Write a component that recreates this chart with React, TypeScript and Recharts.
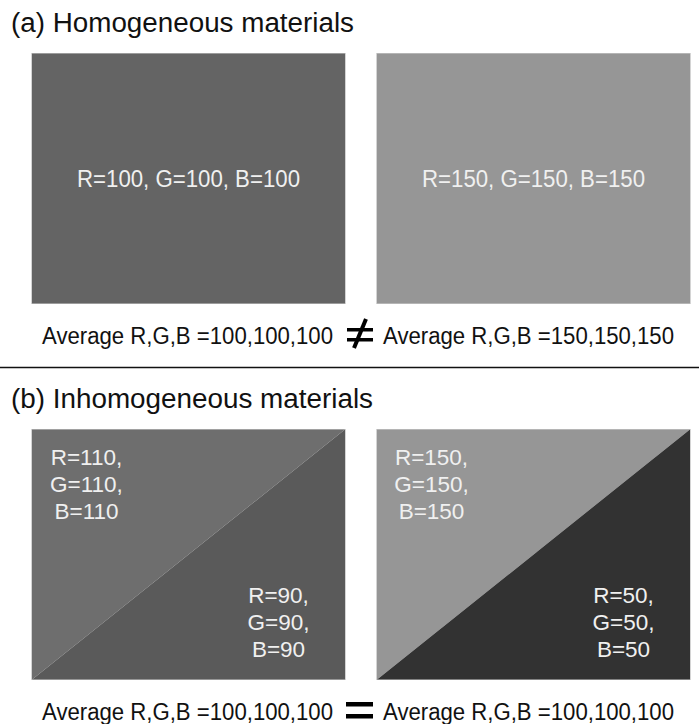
import { BarChart, Bar, XAxis, YAxis } from "recharts";

// one entry per box, left to right
const columns = ["left", "right"];
const homogeneousRGB = [100, 150];
const upperTriangleRGB = [110, 150];
const lowerTriangleRGB = [90, 50];

const panelTitles = ["(a) Homogeneous materials", "(b) Inhomogeneous materials"];

const FONT = "'Liberation Sans', Arial, Helvetica, sans-serif";
const LABEL_COLOR = "#f0f0f0";
const BORDER = "#d4d4d4";

const grey = (v: number) => `rgb(${v},${v},${v})`;

const homogeneousData = columns.map((name, i) => ({
  name,
  full: 1,
  rgb: homogeneousRGB[i],
}));

const inhomogeneousData = columns.map((name, i) => ({
  name,
  full: 1,
  upper: upperTriangleRGB[i],
  lower: lowerTriangleRGB[i],
}));

// equal-area halves, so the average is the plain mean
const averagesA = homogeneousRGB;
const averagesB = columns.map((_, i) => (upperTriangleRGB[i] + lowerTriangleRGB[i]) / 2);

function HomogeneousBox(props: any) {
  const { x, y, width, height, payload } = props;
  const v = payload.rgb;
  return (
    <g>
      <rect x={x} y={y} width={width} height={height} fill={grey(v)} stroke={BORDER} strokeWidth={1} />
      <text
        x={x + width / 2}
        y={y + height / 2 + 8}
        textAnchor="middle"
        fontFamily={FONT}
        fontSize={23}
        fill={LABEL_COLOR}
        textLength={223}
        lengthAdjust="spacingAndGlyphs"
      >
        {`R=${v}, G=${v}, B=${v}`}
      </text>
    </g>
  );
}

function StackedLabel({ cx, top, v }: { cx: number; top: number; v: number }) {
  return (
    <text textAnchor="middle" fontFamily={FONT} fontSize={22.5} fill={LABEL_COLOR}>
      <tspan x={cx} y={top}>{`R=${v},`}</tspan>
      <tspan x={cx} y={top + 27}>{`G=${v},`}</tspan>
      <tspan x={cx} y={top + 54}>{`B=${v}`}</tspan>
    </text>
  );
}

function SplitBox(props: any) {
  const { x, y, width, height, payload } = props;
  return (
    <g>
      <polygon
        points={`${x},${y} ${x + width},${y} ${x},${y + height}`}
        fill={grey(payload.upper)}
      />
      <polygon
        points={`${x + width},${y} ${x + width},${y + height} ${x},${y + height}`}
        fill={grey(payload.lower)}
      />
      <rect x={x} y={y} width={width} height={height} fill="none" stroke={BORDER} strokeWidth={1} />
      <StackedLabel cx={x + 55} top={y + 36} v={payload.upper} />
      <StackedLabel cx={x + 247} top={y + 174} v={payload.lower} />
    </g>
  );
}

function BoxRow({ data, top, shape }: { data: any[]; top: number; shape: any }) {
  return (
    <div style={{ position: "absolute", left: 0, top }}>
      <BarChart
        width={721}
        height={251}
        data={data}
        margin={{ top: 0, right: 15.5, bottom: 0, left: 15.5 }}
        barCategoryGap={0}
      >
        <XAxis dataKey="name" hide />
        <YAxis domain={[0, 1]} hide />
        <Bar dataKey="full" barSize={314} shape={shape} isAnimationActive={false} />
      </BarChart>
    </div>
  );
}

function AverageLine({ values, baseline, equal }: { values: number[]; baseline: number; equal: boolean }) {
  const txt = (v: number) => `Average R,G,B =${v},${v},${v}`;
  const mid = baseline - 10;
  return (
    <g>
      <text x={42} y={baseline} fontFamily={FONT} fontSize={23.5} fill="#111" textLength={291} lengthAdjust="spacingAndGlyphs">
        {txt(values[0])}
      </text>
      <text x={383} y={baseline} fontFamily={FONT} fontSize={23.5} fill="#111" textLength={291} lengthAdjust="spacingAndGlyphs">
        {txt(values[1])}
      </text>
      {equal ? (
        <g fill="#000">
          <rect x={346} y={mid - 8} width={27} height={4.5} />
          <rect x={346} y={mid + 4} width={27} height={4.5} />
        </g>
      ) : (
        <g>
          <rect x={347} y={mid - 6} width={26} height={3.5} fill="#000" />
          <rect x={347} y={mid + 4} width={26} height={3.5} fill="#000" />
          <line x1={366} y1={mid - 15} x2={354} y2={mid + 14} stroke="#000" strokeWidth={4} />
        </g>
      )}
    </g>
  );
}

export default function App() {
  return (
    <div
      style={{
        position: "relative",
        width: 699,
        height: 724,
        overflow: "hidden",
        background: "#fff",
      }}
    >
      <style>{"body{margin:0}"}</style>
      <BoxRow data={homogeneousData} top={53} shape={HomogeneousBox} />
      <BoxRow data={inhomogeneousData} top={429} shape={SplitBox} />
      <svg
        width={699}
        height={724}
        style={{ position: "absolute", left: 0, top: 0, pointerEvents: "none" }}
      >
        <text x={11} y={32} fontFamily={FONT} fontSize={27} fill="#111" textLength={343} lengthAdjust="spacingAndGlyphs">
          {panelTitles[0]}
        </text>
        <AverageLine values={averagesA} baseline={344} equal={averagesA[0] === averagesA[1]} />
        <line x1={0} y1={367.5} x2={699} y2={367.5} stroke="#111" strokeWidth={1.5} />
        <text x={11} y={408} fontFamily={FONT} fontSize={27} fill="#111" textLength={362} lengthAdjust="spacingAndGlyphs">
          {panelTitles[1]}
        </text>
        <AverageLine values={averagesB} baseline={720} equal={averagesB[0] === averagesB[1]} />
      </svg>
    </div>
  );
}
